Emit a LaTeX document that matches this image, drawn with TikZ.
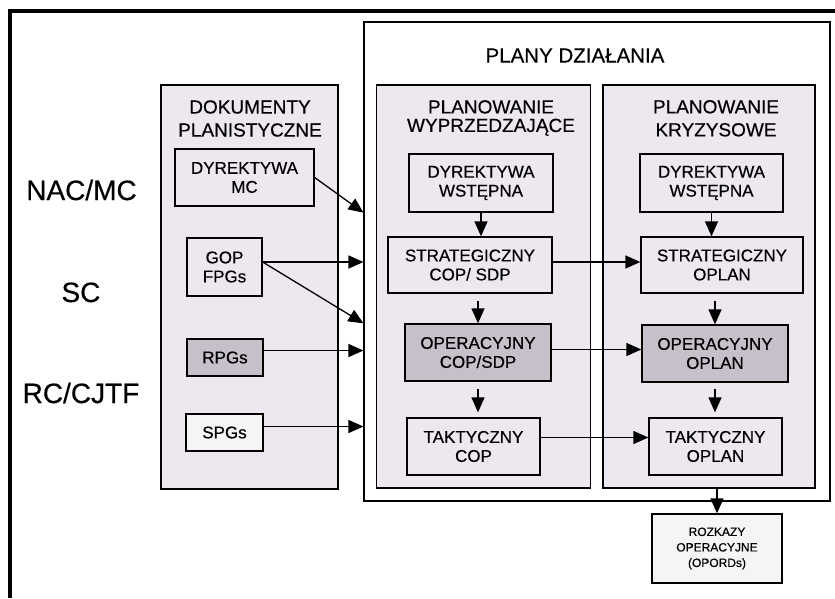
\documentclass[tikz,border=0pt]{standalone}
\usepackage{fontspec}
\setmainfont{Liberation Sans}[FakeBold=0.4]
\usetikzlibrary{arrows.meta, positioning}

\definecolor{grainlight}{RGB}{237,232,239}
\definecolor{graindark}{RGB}{198,192,202}
\definecolor{grainpale}{RGB}{246,244,247}

\begin{document}
\begin{tikzpicture}[x=1pt, y=-1pt,
    section/.style={draw, line width=1.1pt, fill=grainlight},
    doc/.style={draw, line width=1.3pt, fill=grainlight, align=center, font=\fontsize{17}{19}\selectfont},
    docdark/.style={doc, fill=graindark},
    heading/.style={align=center, font=\fontsize{19}{23}\selectfont},
    level/.style={anchor=base, font=\fontsize{28}{30}\selectfont},
    flow/.style={-{Triangle[length=15pt, width=13pt]}, line width=1.3pt}
]
\useasboundingbox (0,0) rectangle (835,598);

% Outer frame (only top and left edges on the page)
\draw[line width=4pt] (10,598) -- (10,10.5) -- (835,10.5);

% Command levels
\node[level] (nac) at (81.5,200) {NAC/MC};
\node[level] (sc) at (81,302) {SC};
\node[level] (rc) at (81,403) {RC/CJTF};

% Sections
\node[section, fill=white, minimum width=466pt, minimum height=479pt] (plany) at (597,261.5) {};
\node at (575,55.5) {\fontsize{20.5}{24}\selectfont PLANY DZIAŁANIA};
\node[section, minimum width=177pt, minimum height=404pt] (dokumenty) at (249.5,287) {};
\node[heading] at (250,118.5) {DOKUMENTY\\PLANISTYCZNE};
\node[section, minimum width=214pt, minimum height=403pt] (wyprz) at (483.5,286.5) {};
\node[heading, font=\fontsize{19}{18.5}\selectfont] at (491,118) {PLANOWANIE\\WYPRZEDZAJĄCE};
\node[section, minimum width=212pt, minimum height=403pt] (kryzys) at (709,286.5) {};
\node[heading] at (716,118.3) {PLANOWANIE\\KRYZYSOWE};

% Planning documents
\node[doc, minimum width=139pt, minimum height=57pt] (dmc) at (244.5,177.5) {DYREKTYWA\\MC};
\node[doc, minimum width=75pt, minimum height=58pt] (gop) at (224.5,267) {GOP\\FPGs};
\node[docdark, minimum width=76pt, minimum height=37pt] (rpgs) at (225,357.5) {RPGs};
\node[doc, fill=grainpale, minimum width=77pt, minimum height=37pt] (spgs) at (224.5,432.5) {SPGs};

% Advance planning
\node[doc, minimum width=144pt, minimum height=58pt] (dyrw) at (481,183) {DYREKTYWA\\WSTĘPNA};
\node[doc, minimum width=164pt, minimum height=56pt] (stratcop) at (470,265) {STRATEGICZNY\\COP/ SDP};
\node[docdark, minimum width=146pt, minimum height=57pt] (opercop) at (478,352.5) {OPERACYJNY\\COP/SDP};
\node[doc, minimum width=133pt, minimum height=57pt] (taktcop) at (473.5,446.5) {TAKTYCZNY\\COP};

% Crisis planning
\node[doc, minimum width=143pt, minimum height=58pt] (dyrk) at (711.5,183) {DYREKTYWA\\WSTĘPNA};
\node[doc, minimum width=162pt, minimum height=56pt] (stratoplan) at (722,265) {STRATEGICZNY\\OPLAN};
\node[docdark, minimum width=146pt, minimum height=57pt] (operoplan) at (715,353.5) {OPERACYJNY\\OPLAN};
\node[doc, minimum width=133pt, minimum height=57pt] (taktoplan) at (715.5,446.5) {TAKTYCZNY\\OPLAN};
\node[doc, fill=grainpale, font=\fontsize{12}{15.5}\selectfont, minimum width=130pt, minimum height=69pt] (opords) at (717,548.5) {ROZKAZY\\OPERACYJNE\\(OPORDs)};

% Documents into the plans
\draw[flow] (dmc.east) -- (plany.west |- dyrw.south);
\draw[flow] ([yshift=5pt]gop.east) -- ([yshift=5pt]gop.east -| plany.west);
\draw[flow] ([yshift=5pt]gop.east) -- (plany.west |- opercop.north);
\draw[flow] ([yshift=7pt]rpgs.east) -- ([yshift=7pt]rpgs.east -| plany.west);
\draw[flow] ([yshift=6pt]spgs.east) -- ([yshift=6pt]spgs.east -| plany.west);

% Down the columns
\draw[flow] (dyrw.south) -- (dyrw.south |- stratcop.north);
\draw[flow, shorten <=7pt] (opercop.north |- stratcop.south) -- (opercop.north);
\draw[flow, shorten <=7pt, shorten >=5pt] (opercop.south) -- (opercop.south |- taktcop.north);
\draw[flow] (dyrk.south) -- (dyrk.south |- stratoplan.north);
\draw[flow, shorten <=7pt] (operoplan.north |- stratoplan.south) -- (operoplan.north);
\draw[flow, shorten <=6pt, shorten >=5pt] (operoplan.south) -- (operoplan.south |- taktoplan.north);
\draw[flow] (kryzys.south -| opords.north) -- (opords.north);

% Across to crisis planning
\draw[flow] ([yshift=3pt]stratcop.east) -- ([yshift=3pt]stratcop.east -| stratoplan.west);
\draw[flow] ([yshift=3pt]opercop.east) -- ([yshift=3pt]opercop.east -| operoplan.west);
\draw[flow] ([yshift=9pt]taktcop.east) -- ([yshift=9pt]taktcop.east -| taktoplan.west);

\end{tikzpicture}
\end{document}
